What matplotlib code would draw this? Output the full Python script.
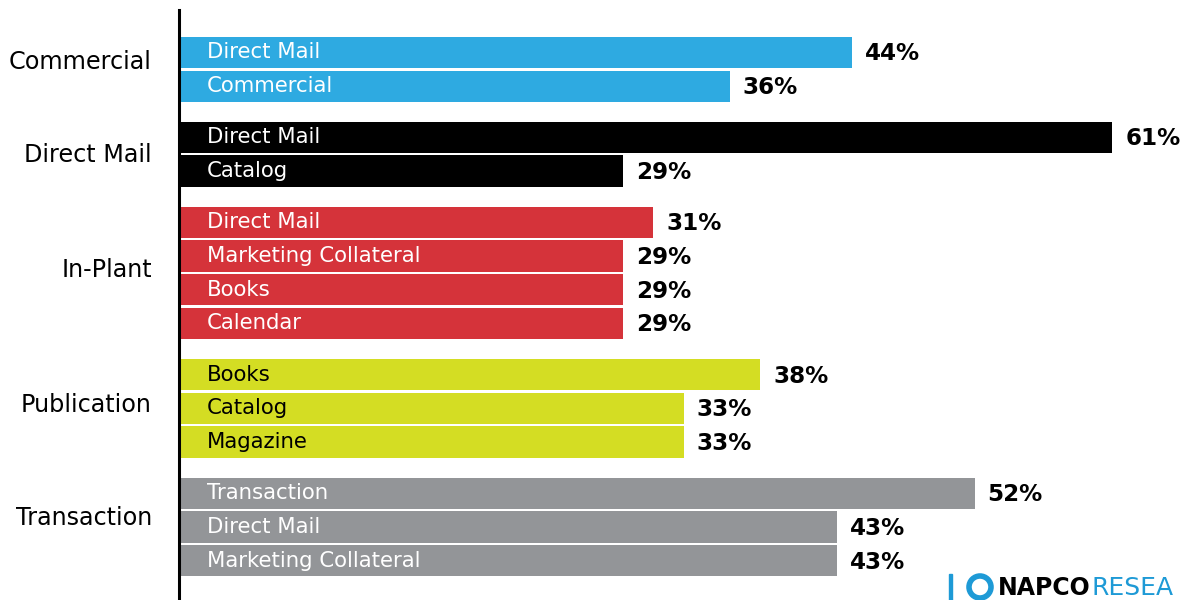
import matplotlib
matplotlib.use("Agg")
from matplotlib import pyplot as plt
from matplotlib.patches import Rectangle, Circle

plt.rcParams["font.family"] = ["DejaVu Sans"]

# survey results by segment
groups = ["Commercial", "Direct Mail", "In-Plant", "Publication", "Transaction"]
group_colors = ["#2eaae1", "#000000", "#d5333a", "#d4dd23", "#939598"]
label_colors = ["white", "white", "white", "black", "white"]
# nudge of the segment names above the group middle, in pixels
name_lift = [7, -1, 3, 3.5, 8.5]

items = [
    ["Direct Mail", "Commercial"],
    ["Direct Mail", "Catalog"],
    ["Direct Mail", "Marketing Collateral", "Books", "Calendar"],
    ["Books", "Catalog", "Magazine"],
    ["Transaction", "Direct Mail", "Marketing Collateral"],
]
values = [
    [44, 36],
    [61, 29],
    [31, 29, 29, 29],
    [38, 33, 33],
    [52, 43, 43],
]

W, H = 1181, 600
fig = plt.figure(figsize=(W / 100, H / 100), dpi=100)
ax = fig.add_axes([179 / W, 0, 1 - 179 / W, 590 / H])

group_gap = 0.52
bar_h = 0.93
px = 72 / 100  # points per pixel

slot = 0
for g, (name, labels, vals) in enumerate(zip(groups, items, values)):
    ys = []
    for lab, v in zip(labels, vals):
        y = slot + g * group_gap
        ys.append(y)
        ax.barh(y, v, height=bar_h, color=group_colors[g], left=0)
        ax.annotate(lab, (0, y), xytext=(28 * px, 0), textcoords="offset points",
                    va="center", ha="left", fontsize=15.3, color=label_colors[g])
        ax.annotate(f"{v}%", (v, y), xytext=(13 * px, -1), textcoords="offset points",
                    va="center", ha="left", fontsize=16.6, fontweight="bold",
                    color="black")
        slot += 1
    mid = (ys[0] + ys[-1]) / 2
    ax.annotate(name, (0, mid), xytext=(-27 * px, name_lift[g] * px),
                textcoords="offset points", va="center", ha="right",
                fontsize=17.2, color="black", annotation_clip=False)

ax.set_xlim(0, 1002 / 15.3)
ax.set_ylim((600 - 52.5) / 33.7, (10 - 52.5) / 33.7)
for s in ["top", "right", "bottom"]:
    ax.spines[s].set_visible(False)
ax.spines["left"].set_linewidth(2.2)
ax.set_xticks([])
ax.set_yticks([])

# logo in the corner
blue = "#1e9ad6"
fig.patches.append(Rectangle((949 / W, 0), 3 / W, 26 / H,
                             transform=fig.transFigure, color=blue))
ring = Circle((980, 13), 11, transform=None, fill=False,
              edgecolor=blue, linewidth=4)
fig.patches.append(ring)
fig.text(998 / W, 12 / H, "NAPCO", fontsize=17, fontweight="heavy",
         color="black", va="center", ha="left")
fig.text(1092 / W, 12 / H, "RESEA", fontsize=18, color=blue,
         va="center", ha="left")

fig.savefig("out.png", dpi=100)
